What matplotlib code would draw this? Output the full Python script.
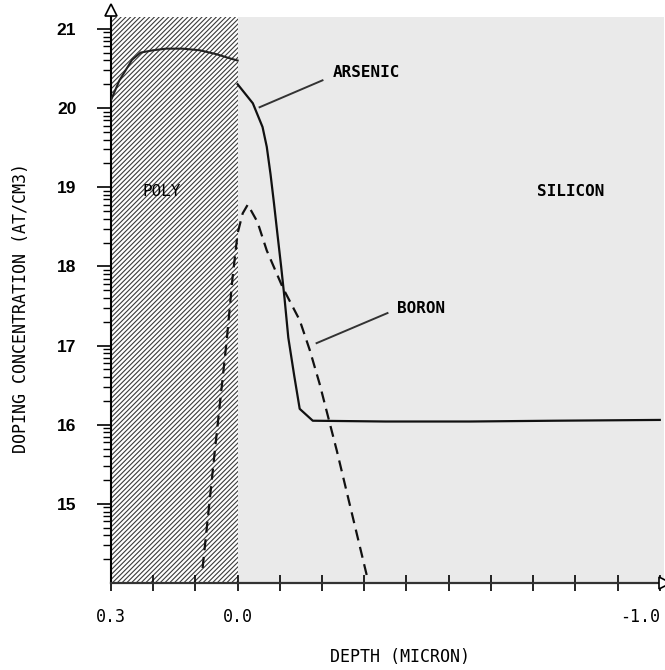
import numpy as np
import matplotlib
matplotlib.use("Agg")
from matplotlib import pyplot as plt

# arsenic profile inside the poly layer (depth > 0)
as_poly_x = [0.30, 0.28, 0.25, 0.23, 0.20, 0.17, 0.13, 0.09, 0.05, 0.02, 0.00]
as_poly_y = [20.10, 20.35, 20.61, 20.70, 20.73, 20.75, 20.75, 20.73, 20.68, 20.63, 20.60]

# arsenic profile in the silicon (depth < 0)
as_si_x = [0.0, -0.036, -0.059, -0.069, -0.078, -0.086, -0.094, -0.103, -0.111,
           -0.120, -0.134, -0.147, -0.178, -0.35, -0.55, -0.75, -1.0]
as_si_y = [20.30, 20.06, 19.76, 19.51, 19.16, 18.80, 18.42, 18.00, 17.60,
           17.10, 16.62, 16.20, 16.05, 16.04, 16.04, 16.05, 16.06]

# boron profile
b_x = [0.083, 0.054, 0.026, 0.012, 0.0, -0.012, -0.024, -0.047, -0.069,
       -0.107, -0.147, -0.171, -0.194, -0.235, -0.308]
b_y = [14.19, 15.67, 17.06, 17.86, 18.42, 18.67, 18.78, 18.56, 18.20,
       17.73, 17.32, 16.94, 16.52, 15.67, 14.05]

y_major = [15, 16, 17, 18, 19, 20, 21]
x_ticks = [0.3, 0.2, 0.1, 0.0, -0.1, -0.2, -0.3, -0.4, -0.5, -0.6, -0.7, -0.8, -0.9, -1.0]
x_labels = {0.3: "0.3", 0.0: "0.0", -1.0: "-1.0"}

mono = "DejaVu Sans Mono"
plt.rcParams['hatch.linewidth'] = 0.8

fig = plt.figure(figsize=(6.65, 6.70), dpi=100)
ax = fig.add_axes([111/665, 87/670, 553/665, 566/670])
ax.set_xlim(0.3, -1.01)
ax.set_ylim(14.0, 21.15)

# regions
ax.axvspan(0.0, -1.01, facecolor='#eaeaea', edgecolor='none', zorder=0)
ax.axvspan(0.3, 0.0, facecolor='white', edgecolor='#3a3a3a', hatch='///////',
           linewidth=0, zorder=0.5)

# profiles
ax.plot(as_poly_x, as_poly_y, color='#222222', lw=1.5, zorder=3)
ax.plot(as_si_x, as_si_y, color='#111111', lw=1.6, zorder=3)
ax.plot(b_x, b_y, color='#111111', lw=1.6, dashes=(5, 3), zorder=3)

# labels with leader lines
ax.plot([-0.052, -0.201], [20.01, 20.35], color='#333333', lw=1.4, zorder=3)
ax.plot([-0.187, -0.355], [17.03, 17.41], color='#333333', lw=1.4, zorder=3)
ax.text(-0.225, 20.45, "ARSENIC", family=mono, fontsize=11.5, weight='bold',
        va='center', ha='left')
ax.text(-0.377, 17.47, "BORON", family=mono, fontsize=11.5, weight='bold',
        va='center', ha='left')
ax.text(-0.708, 18.95, "SILICON", family=mono, fontsize=11.5, weight='bold',
        va='center', ha='left')
ax.text(0.225, 18.95, "POLY", family=mono, fontsize=11.5,
        va='center', ha='left')

# axes styling
for s in ['top', 'right']:
    ax.spines[s].set_visible(False)
ax.spines['left'].set_linewidth(1.5)
ax.spines['bottom'].set_linewidth(1.6)
ax.spines['bottom'].set_color('#333333')

ax.set_yticks(y_major)
ax.set_yticklabels([str(v) for v in y_major], family='Liberation Sans',
                   weight='bold', fontsize=12.5)
minor = [d + np.log10(k) for d in range(14, 21) for k in range(2, 10)]
ax.set_yticks(minor, minor=True)
ax.tick_params(axis='y', which='major', direction='out', length=10, width=1.2, pad=15)
ax.tick_params(axis='y', which='minor', direction='out', length=6, width=1.0)

ax.set_xticks(x_ticks)
ax.set_xticklabels([x_labels.get(round(v, 1), "") for v in x_ticks],
                   family=mono, fontsize=12)
ax.tick_params(axis='x', direction='inout', length=12, width=1.2, pad=12)
lbls = ax.get_xticklabels()
lbls[-1].set_horizontalalignment('right')
lbls[-1].set_x(-1.0)

# axis arrows
ax.plot([0.3], [21.24], marker='^', ms=8, mfc='white', mec='black', mew=1.2,
        clip_on=False, zorder=5)
ax.plot([-1.012], [14.0], marker='>', ms=8, mfc='white', mec='black', mew=1.2,
        clip_on=False, zorder=5)

fig.text(21/665, 1 - 308/670, "DOPING CONCENTRATION (AT/CM3)", family=mono,
         fontsize=12, rotation=90, ha='center', va='center')
fig.text(400/665, 1 - 657/670, "DEPTH (MICRON)", family=mono,
         fontsize=12, ha='center', va='center')

fig.savefig("out.png", dpi=100)
